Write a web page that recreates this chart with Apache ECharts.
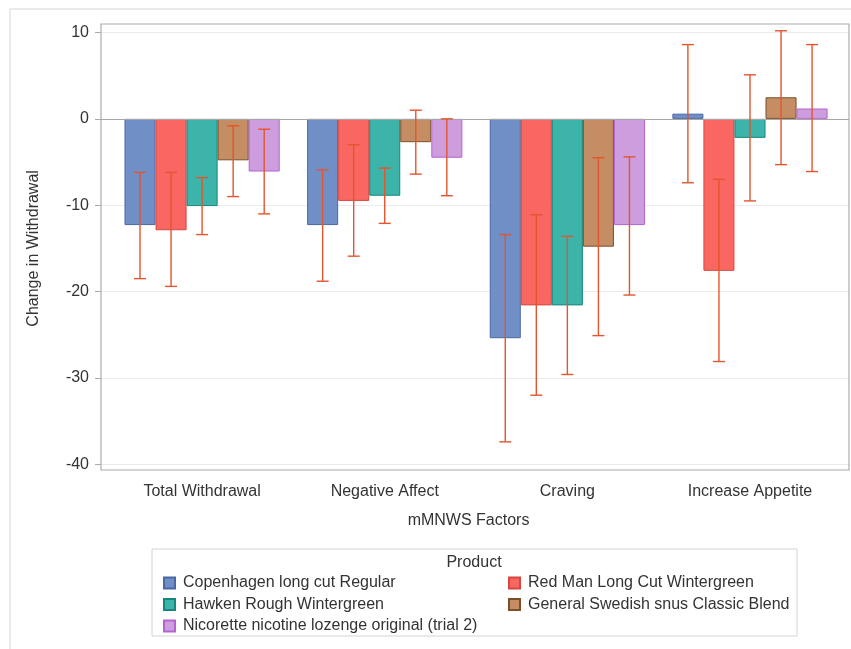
<!DOCTYPE html>
<html>
<head>
<meta charset="utf-8">
<script src="https://cdn.jsdelivr.net/npm/echarts@6/dist/echarts.min.js"></script>
<style>
  html, body { margin: 0; padding: 0; background: #fff; }
  #withdrawalChart { width: 851px; height: 649px; }
</style>
</head>
<body>
<div id="withdrawalChart"></div>
<script>
const categories = ['Total Withdrawal', 'Negative Affect', 'Craving', 'Increase Appetite'];
const productNames = ['Copenhagen long cut Regular', 'Red Man Long Cut Wintergreen', 'Hawken Rough Wintergreen',
                      'General Swedish snus Classic Blend', 'Nicorette nicotine lozenge original (trial 2)'];

// mean change per factor
const copenhagen = [-12.3, -12.3, -25.4, 0.6];
const redMan     = [-12.9, -9.5, -21.6, -17.6];
const hawken     = [-10.1, -8.9, -21.6, -2.2];
const swedish    = [-4.8, -2.7, -14.8, 2.5];
const nicorette  = [-6.1, -4.5, -12.3, 1.2];

// error bar limits
const copenhagenLow  = [-18.5, -18.8, -37.4, -7.4];
const copenhagenHigh = [-6.2, -5.9, -13.4, 8.6];
const redManLow      = [-19.4, -15.9, -32.0, -28.1];
const redManHigh     = [-6.2, -3.0, -11.1, -7.0];
const hawkenLow      = [-13.4, -12.1, -29.6, -9.5];
const hawkenHigh     = [-6.8, -5.7, -13.6, 5.1];
const swedishLow     = [-9.0, -6.4, -25.1, -5.3];
const swedishHigh    = [-0.8, 1.0, -4.5, 10.2];
const nicoretteLow   = [-11.0, -8.9, -20.4, -6.1];
const nicoretteHigh  = [-1.2, 0.0, -4.4, 8.6];

const yTicks = [-40, -30, -20, -10, 0, 10];

const fills   = ['#6f8fc6', '#fa6762', '#3cb4a9', '#c48d63', '#cd9ddd'];
const borders = ['#4a68a3', '#d8473f', '#16877c', '#7a4f2a', '#b565d2'];
const errColor = '#e2562e';
const font = 'Liberation Sans';

const means = [copenhagen, redMan, hawken, swedish, nicorette];
const lows  = [copenhagenLow, redManLow, hawkenLow, swedishLow, nicoretteLow];
const highs = [copenhagenHigh, redManHigh, hawkenHigh, swedishHigh, nicoretteHigh];

const errData = [];
lows.forEach((low, s) => {
    low.forEach((v, c) => errData.push([c, v, highs[s][c], s]));
});

const withdrawalChart = echarts.init(document.getElementById('withdrawalChart'));

function renderErrorBar(params, api) {
    const cat = api.value(0);
    const band = api.size([1, 0])[0];
    const barW = band * 0.85 / 5;
    const x = api.coord([cat, 0])[0] + (api.value(3) - 2) * barW;
    const yLow = api.coord([cat, api.value(1)])[1];
    const yHigh = api.coord([cat, api.value(2)])[1];
    const style = { stroke: errColor, lineWidth: 1.4 };
    return {
        type: 'group',
        children: [
            { type: 'line', shape: { x1: x, y1: yLow, x2: x, y2: yHigh }, style: style },
            { type: 'line', shape: { x1: x - 6, y1: yLow, x2: x + 6, y2: yLow }, style: style },
            { type: 'line', shape: { x1: x - 6, y1: yHigh, x2: x + 6, y2: yHigh }, style: style }
        ]
    };
}

const barSeries = productNames.map((name, i) => ({
    name: name,
    type: 'bar',
    xAxisIndex: 0,
    yAxisIndex: 0,
    barGap: '0%',
    barCategoryGap: '15%',
    itemStyle: { color: fills[i], borderColor: borders[i], borderWidth: 1 },
    data: means[i]
}));

const legendText = { fontFamily: font, fontSize: 16, color: '#333', padding: [0, 0, 0, 3] };

let option = {
    animation: false,
    textStyle: { fontFamily: font },
    graphic: [
        { type: 'rect', shape: { x: 10, y: 9, width: 900, height: 700 },
          style: { fill: 'none', stroke: '#d6d6d6', lineWidth: 1 }, z: -10 },
        { type: 'rect', shape: { x: 101, y: 24, width: 748, height: 446 },
          style: { fill: 'none', stroke: '#acacac', lineWidth: 1.2 }, z: 10 },
        { type: 'rect', shape: { x: 152, y: 549, width: 645, height: 87 },
          style: { fill: 'none', stroke: '#d4d4d4', lineWidth: 1 } },
        { type: 'text', x: 474, y: 563,
          style: { text: 'Product', font: '16px "Liberation Sans"', fill: '#333',
                   textAlign: 'center', textVerticalAlign: 'middle' } }
    ],
    legend: [
        {
            data: [productNames[0], productNames[2], productNames[4]],
            orient: 'vertical', left: 158, top: 570,
            icon: 'rect', itemWidth: 11, itemHeight: 11, itemGap: 5.5,
            textStyle: legendText
        },
        {
            data: [productNames[1], productNames[3]],
            orient: 'vertical', left: 503, top: 570,
            icon: 'rect', itemWidth: 11, itemHeight: 11, itemGap: 5.5,
            textStyle: legendText
        }
    ],
    grid: [
        { left: 110.8, right: 9.7, top: 32.5, bottom: 184.7 },
        { left: 101, right: 2, top: 32.5, bottom: 184.7 }
    ],
    xAxis: [
        {
            type: 'category', gridIndex: 0, data: categories,
            offset: 5.7,
            name: 'mMNWS Factors', nameLocation: 'middle', nameGap: 43,
            nameTextStyle: { fontFamily: font, fontSize: 16, color: '#333', padding: [0, 15, 0, 0] },
            axisLine: { show: false },
            axisTick: { alignWithLabel: true, length: 7, lineStyle: { color: '#a8a8a8' } },
            axisLabel: { fontFamily: font, fontSize: 16, color: '#333', margin: 14 },
            splitLine: { show: false }
        },
        { type: 'value', gridIndex: 1, min: 0, max: 1, show: false }
    ],
    yAxis: [
        { type: 'value', gridIndex: 0, min: -40, max: 10, interval: 10, show: false, splitLine: { show: false } },
        {
            type: 'value', gridIndex: 1, min: yTicks[0], max: yTicks[yTicks.length - 1], interval: 10,
            name: 'Change in Withdrawal', nameLocation: 'middle', nameGap: 59,
            nameTextStyle: { fontFamily: font, fontSize: 16, color: '#333' },
            axisLine: { show: false },
            axisTick: { show: true, length: 6, lineStyle: { color: '#a8a8a8' } },
            axisLabel: { fontFamily: font, fontSize: 16, color: '#333', margin: 12 },
            splitLine: { show: true, lineStyle: { color: '#ebebeb', width: 1 } }
        }
    ],
    series: [
        {
            type: 'line', xAxisIndex: 1, yAxisIndex: 1, data: [],
            markLine: {
                silent: true, symbol: 'none', label: { show: false },
                lineStyle: { color: '#a6a6a6', type: 'solid', width: 1.2 },
                data: [{ yAxis: 0 }]
            }
        },
        ...barSeries,
        {
            type: 'custom', name: 'errors', xAxisIndex: 0, yAxisIndex: 0,
            renderItem: renderErrorBar, clip: false, z: 5,
            encode: { x: 0, y: [1, 2] },
            data: errData
        }
    ]
};

withdrawalChart.setOption(option);
</script>
</body>
</html>
